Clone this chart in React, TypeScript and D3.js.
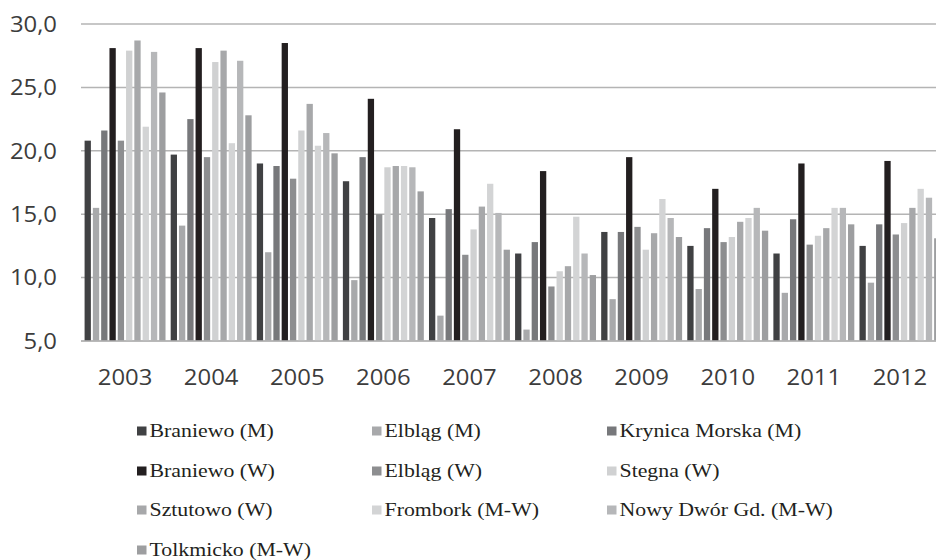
import React from 'react';
import * as d3 from 'd3';

const years = ['2003', '2004', '2005', '2006', '2007', '2008', '2009', '2010', '2011', '2012'];
const seriesNames = [
  'Braniewo (M)', 'Elbląg (M)', 'Krynica Morska (M)',
  'Braniewo (W)', 'Elbląg (W)', 'Stegna (W)',
  'Sztutowo (W)', 'Frombork (M-W)', 'Nowy Dwór Gd. (M-W)',
  'Tolkmicko (M-W)',
];
const seriesColors = [
  '#404143', '#a8a9ab', '#77787b',
  '#231f20', '#8d8e90', '#d0d1d2',
  '#a7a8aa', '#d3d4d5', '#b6b7b9',
  '#9d9ea0',
];

const braniewoM = [20.8, 19.7, 19.0, 17.6, 14.7, 11.9, 13.6, 12.5, 11.9, 12.5];
const elblagM = [15.5, 14.1, 12.0, 9.8, 7.0, 5.9, 8.3, 9.1, 8.8, 9.6];
const krynicaM = [21.6, 22.5, 18.8, 19.5, 15.4, 12.8, 13.6, 13.9, 14.6, 14.2];
const braniewoW = [28.1, 28.1, 28.5, 24.1, 21.7, 18.4, 19.5, 17.0, 19.0, 19.2];
const elblagW = [20.8, 19.5, 17.8, 15.0, 11.8, 9.3, 14.0, 12.8, 12.6, 13.4];
const stegnaW = [27.9, 27.0, 21.6, 18.7, 13.8, 10.5, 12.2, 13.2, 13.3, 14.3];
const sztutowoW = [28.7, 27.9, 23.7, 18.8, 15.6, 10.9, 13.5, 14.4, 13.9, 15.5];
const fromborkMW = [21.9, 20.6, 20.4, 18.8, 17.4, 14.8, 16.2, 14.7, 15.5, 17.0];
const nowyDworMW = [27.8, 27.1, 21.4, 18.7, 15.1, 11.9, 14.7, 15.5, 15.5, 16.3];
const tolkmickoMW = [24.6, 22.8, 19.8, 16.8, 12.2, 10.2, 13.2, 13.7, 14.2, 13.1];

const seriesValues = [
  braniewoM, elblagM, krynicaM, braniewoW, elblagW,
  stegnaW, sztutowoW, fromborkMW, nowyDworMW, tolkmickoMW,
];

const yTicks = [5, 10, 15, 20, 25, 30];

const W = 936;
const H = 560;

export default function App() {
  const y = d3.scaleLinear().domain([5, 30]).range([341, 24]);
  const x0 = d3.scaleBand<string>().domain(years).range([82, 943]).paddingInner(0.06).paddingOuter(0.03);
  const x1 = d3.scaleBand<string>().domain(seriesNames).range([0, x0.bandwidth()]).paddingInner(0.24).paddingOuter(0);
  const fmt = (v: number) => v.toFixed(1).replace('.', ',');
  const axisFont = "'Open Sans', sans-serif";
  const legendFont = "'Liberation Serif', 'Times New Roman', serif";

  const legendCols = [137, 372, 607];
  const legendRows = [431, 471, 510, 550];

  return (
    <svg width={W} height={H} style={{ position: 'absolute', left: 0, top: 0, background: '#fff' }}>
      <rect x={0} y={0} width={W} height={H} fill="#fff" />
      {yTicks.map((t) => (
        <line key={'g' + t} x1={81} x2={W} y1={y(t)} y2={y(t)} stroke="#b4b4b4" strokeWidth={1.5} />
      ))}
      {yTicks.map((t) => (
        <text
          key={'yl' + t}
          transform={`translate(57,${y(t)}) scale(1.11,1)`}
          textAnchor="end"
          dy="0.36em"
          fontFamily={axisFont}
          fontSize={21.5}
          fill="#3c3c3c"
        >
          {fmt(t)}
        </text>
      ))}
      {years.map((yr, i) => (
        <g key={yr} transform={`translate(${x0(yr)},0)`}>
          {seriesNames.map((s, j) => {
            const v = seriesValues[j][i];
            return (
              <rect
                key={s}
                x={x1(s)}
                y={y(v)}
                width={x1.bandwidth()}
                height={y(5) - y(v)}
                fill={seriesColors[j]}
              />
            );
          })}
        </g>
      ))}
      <line x1={81} x2={W} y1={y(5)} y2={y(5)} stroke="#b4b4b4" strokeWidth={1.5} />
      {years.map((yr) => (
        <text
          key={'xl' + yr}
          transform={`translate(${(x0(yr) as number) + x0.bandwidth() / 2},385) scale(1.11,1)`}
          textAnchor="middle"
          fontFamily={axisFont}
          fontSize={21.5}
          fill="#3c3c3c"
        >
          {yr}
        </text>
      ))}
      {seriesNames.map((s, j) => {
        const cx = legendCols[j % 3];
        const cy = legendRows[Math.floor(j / 3)];
        return (
          <g key={'lg' + s}>
            <rect x={cx} y={cy - 4.5} width={9.5} height={9} fill={seriesColors[j]} />
            <text
              transform={`translate(${cx + 12.5},${cy}) scale(1.18,1)`}
              dy="0.33em"
              fontFamily={legendFont}
              fontSize={18.5}
              fill="#231f20"
            >
              {s}
            </text>
          </g>
        );
      })}
    </svg>
  );
}
